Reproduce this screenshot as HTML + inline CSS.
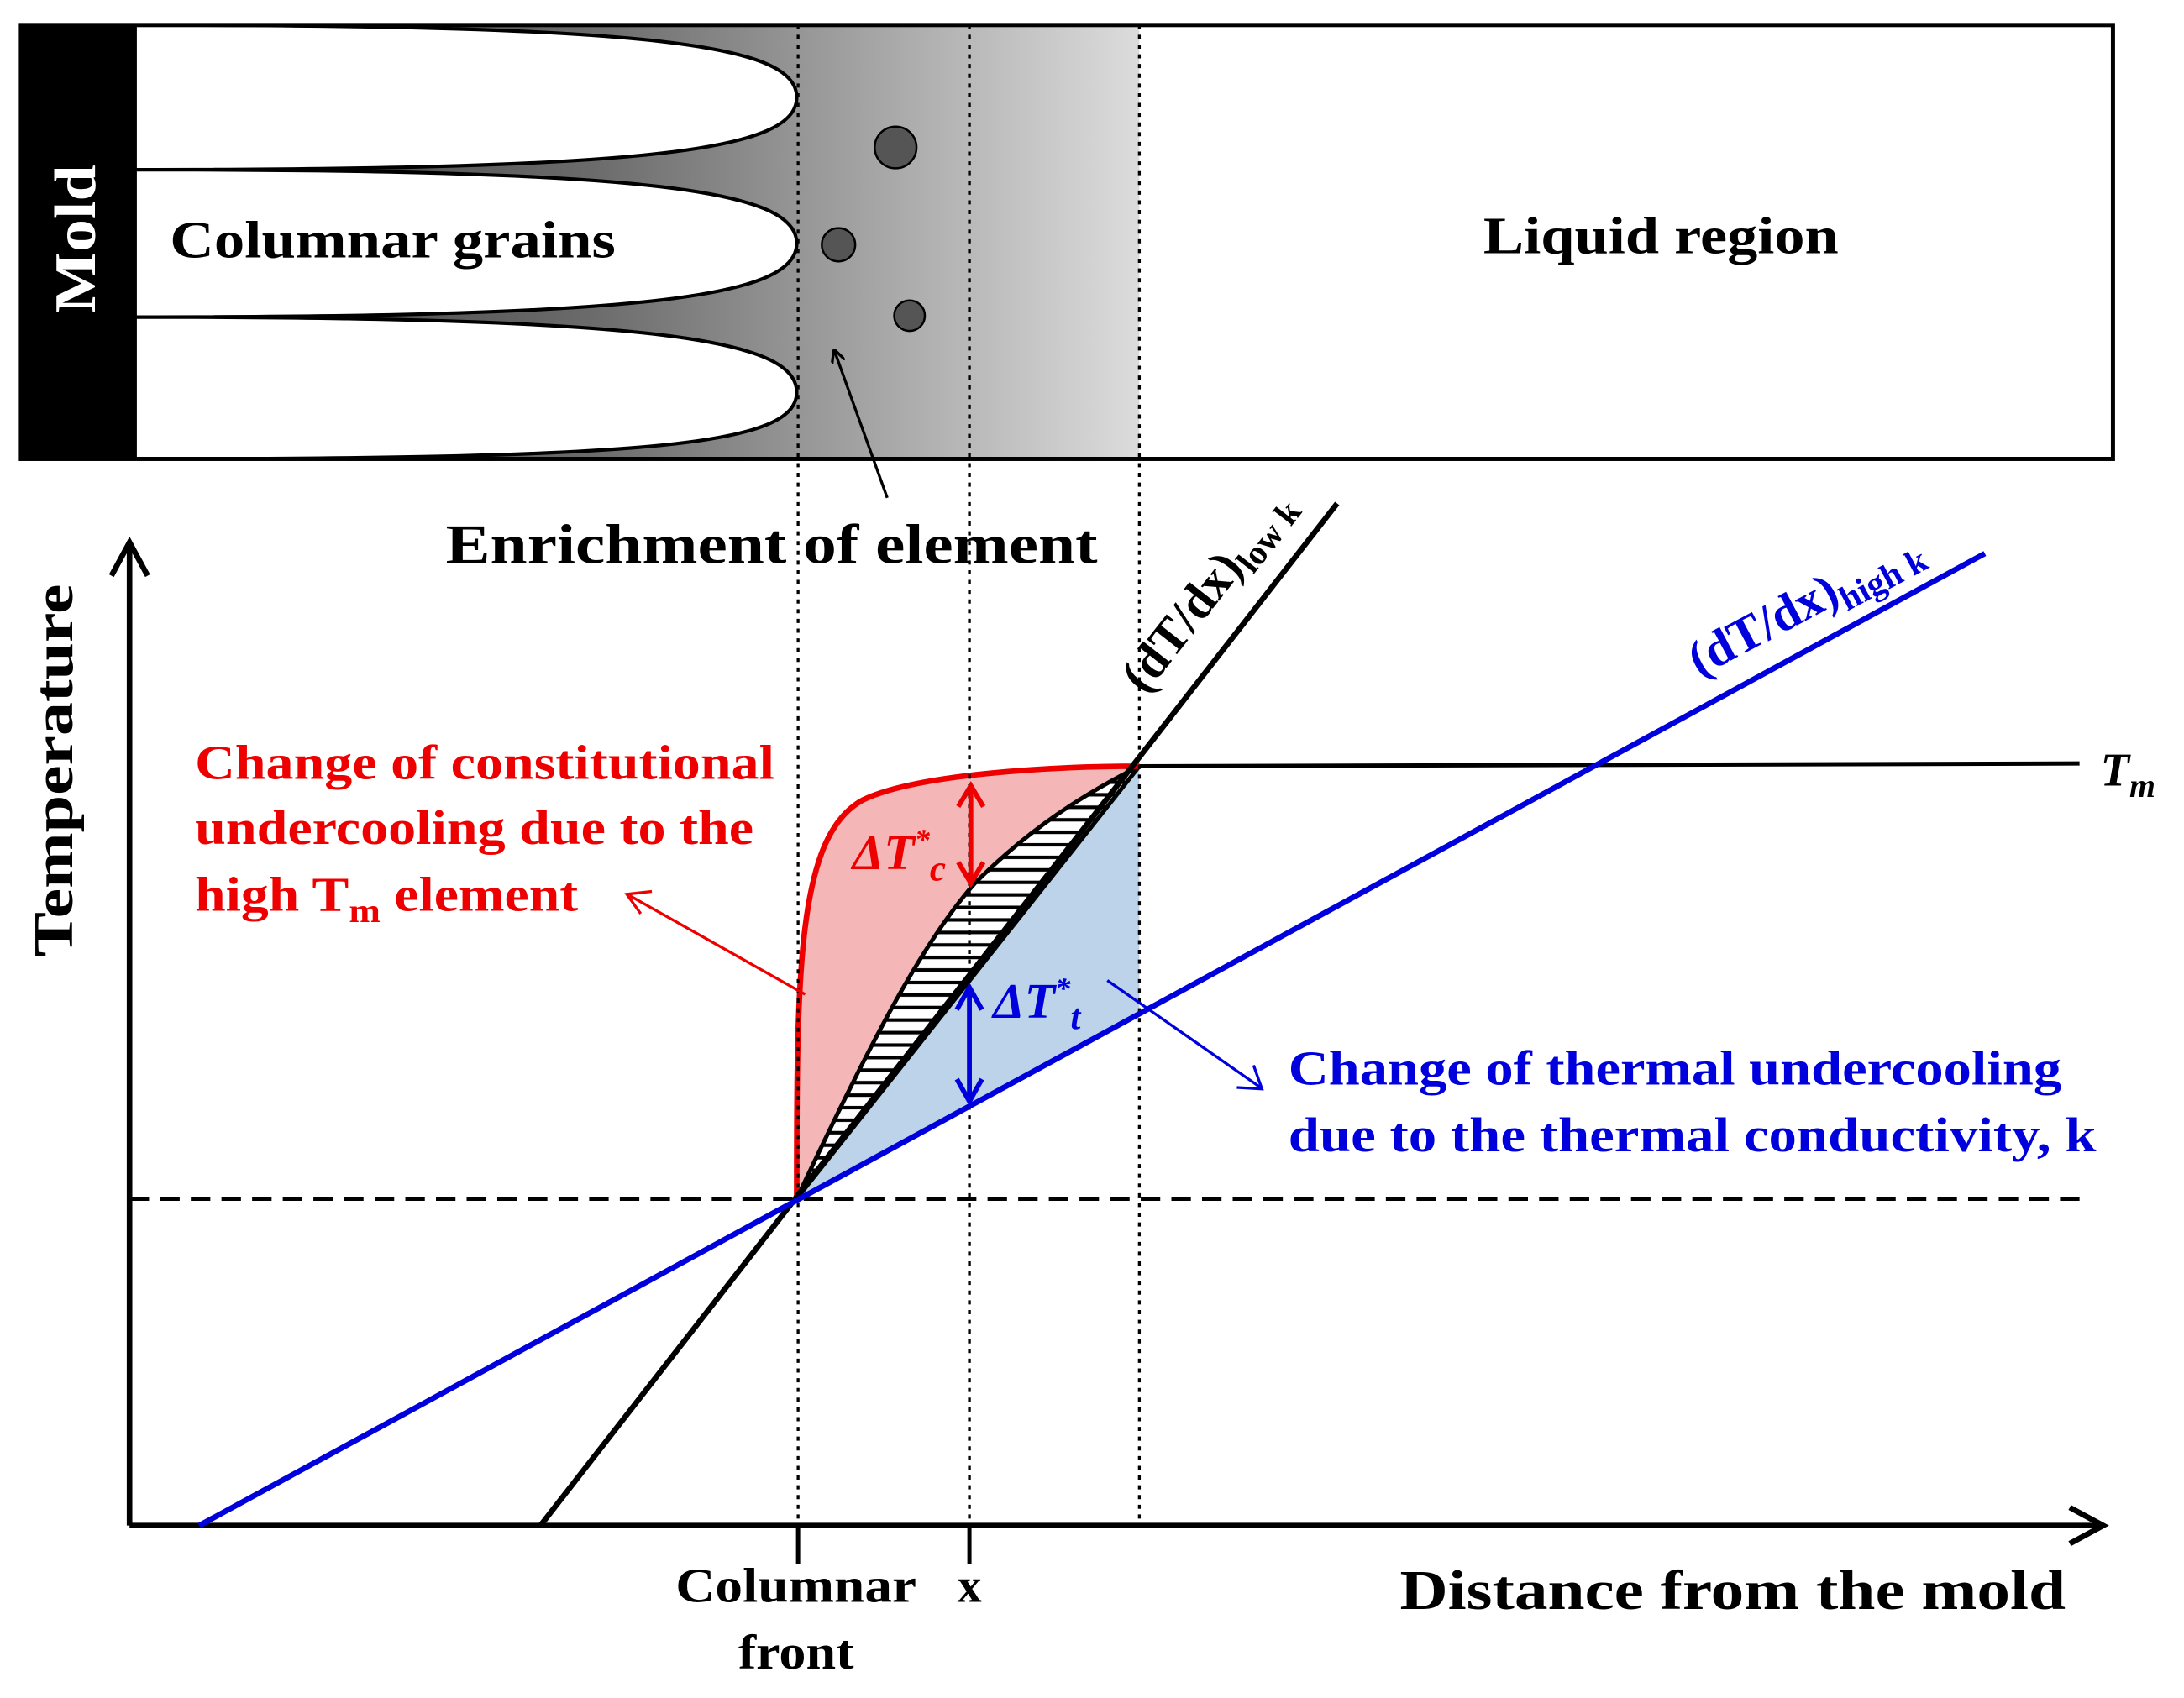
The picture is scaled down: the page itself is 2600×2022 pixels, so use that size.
<!DOCTYPE html>
<html><head><style>html,body{margin:0;padding:0;background:#fff}svg{display:block}</style></head>
<body>
<svg width="2600" height="2022" viewBox="0 0 1568 1221" preserveAspectRatio="none" xmlns="http://www.w3.org/2000/svg" font-family="'Liberation Serif', serif" font-weight="bold">
<defs>
<linearGradient id="g" x1="0" x2="1" y1="0" y2="0">
<stop offset="0" stop-color="#3a3a3a"/><stop offset="0.45" stop-color="#6a6a6a"/><stop offset="1" stop-color="#dcdcdc"/>
</linearGradient>
<pattern id="h" width="6" height="9" patternUnits="userSpaceOnUse"><rect width="6" height="9" fill="#fff"/><line x1="0" y1="4.5" x2="6" y2="4.5" stroke="#000" stroke-width="2.5"/></pattern>
<marker id="ab" markerWidth="10" markerHeight="10" refX="9" refY="5" orient="auto" markerUnits="userSpaceOnUse"><path d="M0,0 L10,5 L0,10" fill="none" stroke="#000" stroke-width="2"/></marker>
</defs>
<rect x="97" y="18" width="721" height="312" fill="url(#g)"/>
<rect x="15" y="18" width="82" height="312" fill="#000"/>
<text transform="translate(68,172) rotate(-90)" text-anchor="middle" fill="#fff" font-size="42" textLength="107" lengthAdjust="spacingAndGlyphs">Mold</text>
<g fill="#fff" stroke="#000" stroke-width="2.5">
<path d="M97,18 C470,18 572,32 572,70 C572,108 470,122 97,122 Z"/>
<path d="M97,122 C470,122 572,137 572,175 C572,213 470,228 97,228 Z"/>
<path d="M97,228 C470,228 572,244 572,282 C572,320 470,330 97,330 Z"/>
</g>
<rect x="15" y="18" width="1502" height="312" fill="none" stroke="#000" stroke-width="3"/>
<g fill="#555" stroke="#000" stroke-width="1.5">
<circle cx="643" cy="106" r="15"/><circle cx="602" cy="176" r="12"/><circle cx="653" cy="227" r="11"/>
</g>
<text x="122" y="185" font-size="38" textLength="320" lengthAdjust="spacingAndGlyphs">Columnar grains</text>
<text x="1065" y="182" font-size="38" textLength="255" lengthAdjust="spacingAndGlyphs">Liquid region</text>
<path d="M572,862 L818,546 L818,729 Z" fill="#bcd3ea"/>
<path d="M572,862 C572,700 572,600 620,575 C660,556 760,551 818,551 C780,570 740,595 700,635 C660,680 620,760 572,862 Z" fill="#f4b6b6"/>
<path d="M572,862 C620,760 660,680 700,635 C740,595 780,570 818,551 L572,862 Z" fill="url(#h)" stroke="#000" stroke-width="3"/>
<path d="M572,862 C572,700 572,600 620,575 C660,556 760,551 818,551" fill="none" stroke="#e00" stroke-width="4"/>
<g stroke="#000" stroke-width="2" stroke-dasharray="3,4">
<line x1="573" y1="18" x2="573" y2="1097"/><line x1="696" y1="18" x2="696" y2="1097"/><line x1="818" y1="18" x2="818" y2="1097"/>
</g>
<line x1="637" y1="358" x2="599" y2="252" stroke="#000" stroke-width="2" marker-end="url(#ab)"/>
<text x="320" y="405" font-size="40" textLength="468" lengthAdjust="spacingAndGlyphs">Enrichment of element</text>
<line x1="93" y1="1097" x2="93" y2="392" stroke="#000" stroke-width="4"/>
<path d="M80,414 L93,390 L106,414" fill="none" stroke="#000" stroke-width="4"/>
<line x1="93" y1="1097" x2="1508" y2="1097" stroke="#000" stroke-width="4"/>
<path d="M1486,1084 L1510,1097 L1486,1110" fill="none" stroke="#000" stroke-width="4"/>
<line x1="573" y1="1097" x2="573" y2="1125" stroke="#000" stroke-width="3"/>
<line x1="696" y1="1097" x2="696" y2="1125" stroke="#000" stroke-width="3"/>
<text transform="translate(52,554) rotate(-90)" text-anchor="middle" font-size="40" textLength="268" lengthAdjust="spacingAndGlyphs">Temperature</text>
<text x="1005" y="1157" font-size="40" textLength="478" lengthAdjust="spacingAndGlyphs">Distance from the mold</text>
<text x="485" y="1152" font-size="35" textLength="173" lengthAdjust="spacingAndGlyphs">Columnar</text>
<text x="530" y="1200" font-size="35" textLength="83" lengthAdjust="spacingAndGlyphs">front</text>
<text x="696" y="1152" text-anchor="middle" font-size="35">x</text>
<line x1="93" y1="862" x2="1500" y2="862" stroke="#000" stroke-width="3" stroke-dasharray="14,8"/>
<line x1="818" y1="551" x2="1493" y2="549" stroke="#000" stroke-width="3"/>
<text x="1508" y="565" font-size="34" font-style="italic">T<tspan font-size="24" dy="8">m</tspan></text>
<line x1="388" y1="1097" x2="960" y2="362" stroke="#000" stroke-width="4"/>
<line x1="143" y1="1097" x2="1425" y2="398" stroke="#0000dd" stroke-width="4"/>
<text transform="translate(822,500) rotate(-52)" font-size="36">(dT/dx)<tspan font-size="25" dy="8">low k</tspan></text>
<text transform="translate(1220,487) rotate(-28)" font-size="36" fill="#0000dd">(dT/dx)<tspan font-size="25" dy="8">high k</tspan></text>
<g stroke="#e00" stroke-width="3.5" fill="none"><line x1="697" y1="567" x2="697" y2="633"/><path d="M688,580 L697,565 L706,580 M688,620 L697,635 L706,620"/></g>
<text x="612" y="625" font-size="36" fill="#e00" font-style="italic">ΔT<tspan font-size="22" dy="-14">*</tspan><tspan font-size="26" dy="22">c</tspan></text>
<g stroke="#0000dd" stroke-width="3.5" fill="none"><line x1="696" y1="712" x2="696" y2="790"/><path d="M687,726 L696,710 L705,726 M687,776 L696,792 L705,776"/></g>
<text x="713" y="732" font-size="36" fill="#0000dd" font-style="italic">ΔT<tspan font-size="22" dy="-14">*</tspan><tspan font-size="26" dy="22">t</tspan></text>
<g fill="#e00" font-size="35"><text x="140" y="560" textLength="416" lengthAdjust="spacingAndGlyphs">Change of constitutional</text><text x="140" y="607" textLength="401" lengthAdjust="spacingAndGlyphs">undercooling due to the</text><text x="140" y="655" textLength="275" lengthAdjust="spacingAndGlyphs">high T<tspan font-size="24" dy="8">m</tspan><tspan dy="-8"> element</tspan></text></g>
<g stroke="#e00" stroke-width="2" fill="none"><line x1="578" y1="715" x2="452" y2="644"/><path d="M468,641 L450,643 L460,657"/></g>
<g fill="#0000dd" font-size="35"><text x="925" y="780" textLength="555" lengthAdjust="spacingAndGlyphs">Change of thermal undercooling</text><text x="925" y="828" textLength="580" lengthAdjust="spacingAndGlyphs">due to the thermal conductivity, k</text></g>
<g stroke="#0000dd" stroke-width="2" fill="none"><line x1="795" y1="705" x2="905" y2="782"/><path d="M888,782 L906,783 L900,766"/></g>
</svg>
</body></html>
